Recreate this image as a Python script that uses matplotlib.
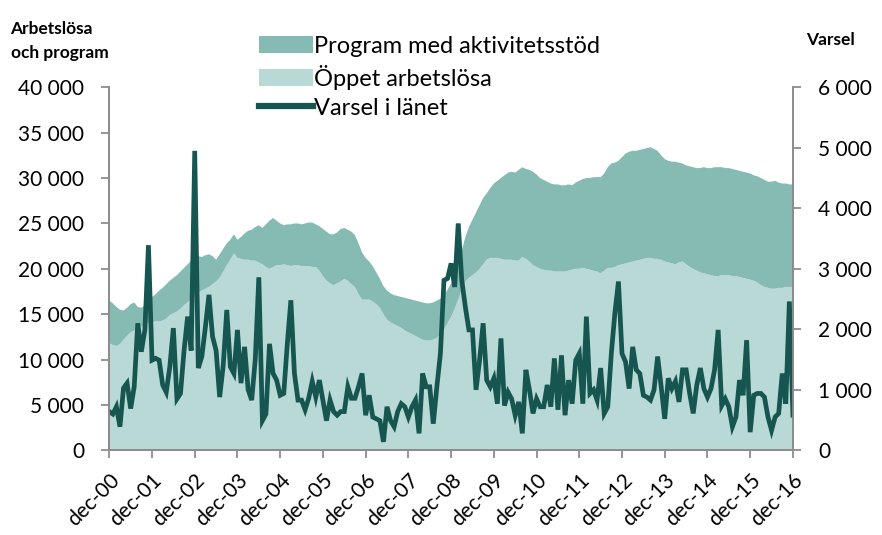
import numpy as np
import matplotlib
matplotlib.use("Agg")
import matplotlib.pyplot as plt
from matplotlib.patches import Patch
from matplotlib.lines import Line2D
from matplotlib.ticker import FuncFormatter

plt.rcParams['font.family'] = ['Lato', 'DejaVu Sans']

# manadsdata dec-00 .. dec-16 (193 manader)
oppet = [
    11800, 11600, 11500, 11700, 12200, 12600, 13000, 13200, 13500, 13600, 13800, 14000,
    14100, 14200, 14200, 14300, 14500, 14900, 15100, 15300, 15600, 16000, 16300, 16700,
    16900, 17400, 17600, 17800, 18000, 18300, 18600, 19000, 19700, 20400, 21000, 21700,
    21200, 21100, 21000, 21000, 20900, 20900, 20700, 20500, 20200, 20000, 20200, 20400,
    20400, 20500, 20400, 20300, 20400, 20400, 20300, 20300, 20300, 20200, 20200, 19800,
    19200, 18700, 18400, 18200, 18400, 18600, 18900, 18700, 18300, 18000, 17200, 16600,
    16600, 16600, 16400, 16100, 15700, 15000, 14400, 14100, 13900, 13700, 13500, 13200,
    13000, 12800, 12600, 12400, 12200, 12100, 12100, 12200, 12400, 12800, 13300, 14000,
    14700, 15600, 16600, 17700, 18600, 19000, 19300, 19600, 20000, 20500, 21000, 21200,
    21200, 21200, 21100, 21000, 21000, 21000, 20900, 20900, 21300, 21100, 20800, 20400,
    20200, 20000, 19900, 19800, 19800, 19700, 19700, 19700, 19700, 19800, 19900, 20000,
    20000, 20100, 20000, 19900, 19800, 19700, 19500, 19800, 20100, 20100, 20200, 20400,
    20500, 20600, 20700, 20800, 20900, 21000, 21100, 21200, 21200, 21100, 21100, 21000,
    20800, 20700, 20600, 20500, 20700, 20800, 20500, 20200, 20000, 19800, 19600, 19500,
    19400, 19300, 19200, 19200, 19300, 19300, 19300, 19200, 19200, 19100, 19000, 18900,
    18800, 18700, 18500, 18200, 18000, 17900, 17800, 17800, 17900, 17900, 18000, 18000,
    18000,
]

program = [
    4700, 4600, 4300, 3800, 3200, 3100, 3100, 3100, 2300, 2100, 2200, 2500,
    2800, 3000, 3400, 3600, 3800, 3800, 3900, 4000, 4100, 4100, 4200, 4200,
    4400, 4000, 3700, 3700, 3600, 3100, 2400, 2600, 2500, 2400, 2200, 2100,
    2000, 2400, 2900, 3200, 3400, 3700, 4100, 4000, 4700, 5300, 5400, 4900,
    4600, 4300, 4500, 4600, 4600, 4600, 4600, 4700, 4800, 4900, 4700, 4900,
    5200, 5400, 5400, 5600, 5600, 5800, 5600, 5600, 5800, 5700, 5600, 5200,
    4600, 4200, 3900, 3500, 3200, 3100, 3200, 3200, 3200, 3300, 3400, 3600,
    3700, 3800, 3900, 4000, 4100, 4100, 4100, 4100, 4100, 3900, 3800, 3700,
    3700, 3600, 3900, 4300, 4900, 5600, 6100, 6600, 7000, 7300, 7300, 7700,
    8200, 8500, 8900, 9300, 9600, 9700, 9700, 10000, 9900, 9900, 10100, 10300,
    10200, 10000, 9900, 9800, 9600, 9600, 9600, 9500, 9500, 9500, 9300, 9500,
    9700, 9800, 10000, 10100, 10300, 10400, 10600, 10700, 11100, 11500, 11500, 11500,
    11800, 12100, 12200, 12200, 12100, 12100, 12100, 12100, 12200, 12100, 11900, 11500,
    11300, 11200, 11200, 11300, 11000, 10800, 10900, 11100, 11200, 11300, 11500, 11700,
    11700, 11800, 12000, 12000, 11900, 11800, 11800, 11800, 11700, 11700, 11700, 11700,
    11700, 11600, 11700, 11800, 11800, 11700, 11800, 11900, 11600, 11500, 11400, 11300,
    11300,
]

varsel = [
    640, 600, 720, 390, 1030, 1110, 690, 1050, 2100, 1630, 1990, 3390,
    1490, 1520, 1490, 1080, 960, 1380, 2020, 850, 940, 1650, 2210, 1650,
    4950, 1360, 1550, 2040, 2570, 1880, 1650, 880, 1400, 2320, 1380, 1270,
    1990, 1110, 1710, 1000, 830, 1500, 2860, 490, 600, 1760, 1270, 1160,
    910, 940, 1760, 2480, 1270, 830, 830, 670, 860, 1140, 880, 1160,
    830, 490, 830, 640, 580, 640, 640, 1050, 860, 860, 1050, 1270,
    580, 910, 550, 520, 490, 140, 720, 490, 390, 640, 770, 720,
    550, 720, 830, 280, 1270, 1050, 1050, 440, 1050, 1600, 2810, 2840,
    3090, 2700, 3750, 2810, 2370, 1990, 1990, 1000, 1490, 2100, 1160, 1050,
    1190, 770, 1850, 740, 960, 850, 580, 800, 280, 1330, 1000, 610,
    850, 720, 720, 1080, 720, 1520, 670, 1570, 580, 1160, 770, 1490,
    1600, 770, 2210, 940, 1000, 830, 1360, 610, 720, 1600, 2270, 2790,
    1600, 1460, 1020, 1710, 1330, 1270, 910, 880, 830, 1000, 1550, 1050,
    520, 1190, 1020, 1140, 800, 1330, 1330, 940, 610, 1080, 1360, 1020,
    880, 1020, 1330, 1990, 740, 850, 720, 390, 550, 1160, 910, 1820,
    300, 910, 940, 940, 880, 550, 330, 550, 610, 1270, 770, 2460,
    580,
]

tick_labels = ['dec-00', 'dec-01', 'dec-02', 'dec-03', 'dec-04', 'dec-05', 'dec-06',
               'dec-07', 'dec-08', 'dec-09', 'dec-10', 'dec-11', 'dec-12', 'dec-13',
               'dec-14', 'dec-15', 'dec-16']

c_oppet = '#b8d9d6'
c_program = '#85bbb3'
c_linje = '#175650'
c_axel = '#8c8c8c'

def tusen(v, pos):
    return '{:,.0f}'.format(v).replace(',', ' ')

manad = np.arange(len(oppet))

fig = plt.figure(figsize=(8.82, 5.35), dpi=100)
ax = fig.add_axes([0.1239, 0.1583, 0.899 - 0.1239, 0.8368 - 0.1583])
ax.stackplot(manad, oppet, program, colors=[c_oppet, c_program], linewidth=0)
ax.set_xlim(0, len(oppet) - 1)
ax.set_ylim(0, 40000)
ax.set_yticks(np.arange(0, 40001, 5000))
ax.yaxis.set_major_formatter(FuncFormatter(tusen))
ax.set_xticks(np.arange(0, len(oppet), 12))
ax.set_xticklabels(tick_labels, rotation=45, ha='right', rotation_mode='anchor')

ax2 = ax.twinx()
ax2.plot(manad, varsel, color=c_linje, linewidth=3.4, solid_joinstyle='miter')
ax2.set_ylim(0, 6000)
ax2.set_yticks(np.arange(0, 6001, 1000))
ax2.yaxis.set_major_formatter(FuncFormatter(tusen))

for a in (ax, ax2):
    a.spines['top'].set_visible(False)
    for s in ('left', 'right', 'bottom'):
        a.spines[s].set_color(c_axel)
        a.spines[s].set_linewidth(1.3)
    a.tick_params(axis='both', colors=c_axel, labelcolor='black', labelsize=15,
                  length=6, width=1.3, direction='out')
ax.tick_params(axis='y', pad=12)
ax.tick_params(axis='x', pad=8)
ax2.tick_params(axis='y', pad=12)

fig.text(0.012, 0.96, 'Arbetslösa\noch program', fontsize=12.5, fontweight='bold',
         va='top', ha='left', linespacing=1.55)
fig.text(0.914, 0.94, 'Varsel', fontsize=12.5, fontweight='bold', va='top', ha='left')

handles = [Patch(facecolor=c_program, edgecolor='none'),
           Patch(facecolor=c_oppet, edgecolor='none'),
           Line2D([0], [0], color=c_linje, linewidth=4.5)]
labels = ['Program med aktivitetsstöd', 'Öppet arbetslösa', 'Varsel i länet']
fig.legend(handles, labels, loc='upper left', bbox_to_anchor=(0.280, 0.955),
           frameon=False, fontsize=17, handlelength=2.3, handleheight=0.75,
           handletextpad=0.06, labelspacing=0.34, borderpad=0)

fig.savefig('out.png', dpi=100)
